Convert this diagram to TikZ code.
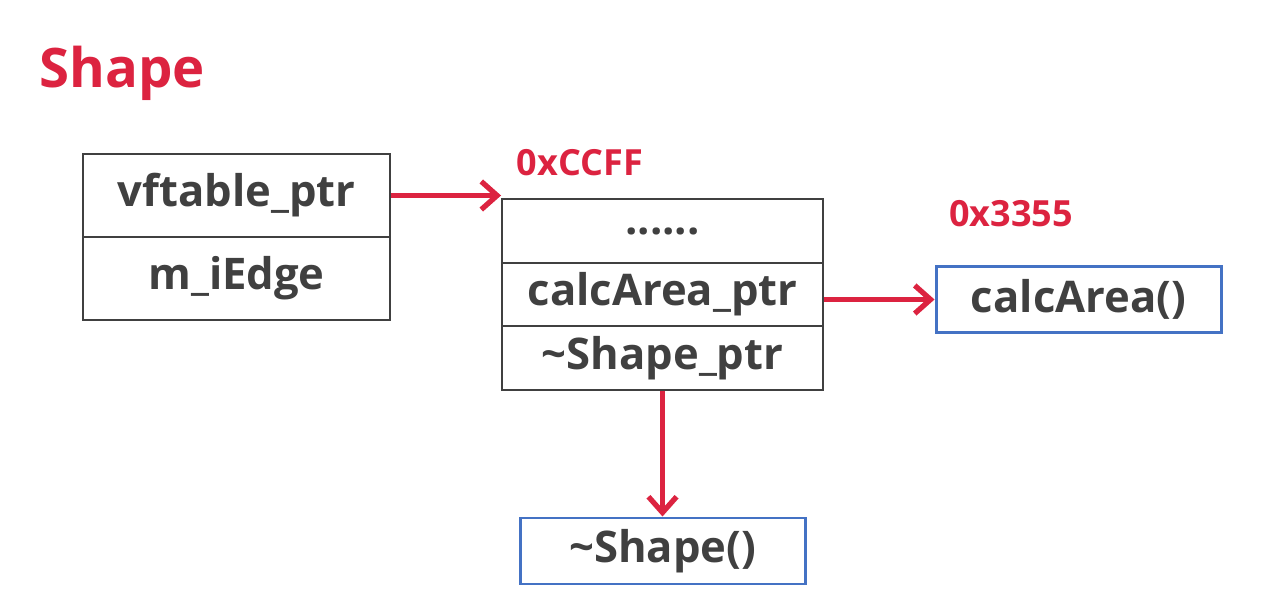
\documentclass[tikz,border=0pt]{standalone}
\usepackage{fontspec}
\setmainfont{Open Sans}
\usetikzlibrary{arrows.meta}
\definecolor{ptred}{HTML}{DC2340}
\definecolor{txtgray}{HTML}{404040}
\definecolor{boxblue}{HTML}{4472C4}
\tikzset{
  cell/.style={draw=txtgray, line width=1.1pt, inner sep=0pt, text=txtgray,
    font=\bfseries\fontsize{24.8}{28}\selectfont},
  fnbox/.style={draw=boxblue, line width=1.7pt, inner sep=0pt, text=txtgray,
    minimum width=5.7cm, minimum height=1.32cm,
    font=\bfseries\fontsize{24.8}{28}\selectfont},
  addr/.style={text=ptred, inner sep=0pt, font=\bfseries\fontsize{20.5}{24}\selectfont},
  ptrarrow/.style={draw=ptred, line width=3pt,
    -{Straight Barb[length=9pt,width=16pt,line width=3pt]}}
}
\begin{document}
\begin{tikzpicture}
\useasboundingbox (0,0) rectangle (25.32,-11.96);
\fill[white] (0,0) rectangle (25.32,-11.96);
% title
\node[anchor=base west, inner sep=0pt, text=ptred, font=\bfseries\fontsize{31}{36}\selectfont] (title) at (0.78,-1.76) {Shape};
% object box
\node[cell, minimum width=6.14cm, minimum height=1.66cm] (vf) at (4.73,-3.91) {vftable\_ptr};
\node[cell, minimum width=6.14cm, minimum height=1.66cm] (edge) at (4.73,-5.57) {m\_iEdge};
% vftable
\node[addr] (a1) at (11.6,-3.26) {0xCCFF};
\node[cell, minimum width=6.42cm, minimum height=1.28cm] (dots) at (13.25,-4.62) {......};
\node[cell, minimum width=6.42cm, minimum height=1.26cm] (calc) at (13.25,-5.89) {calcArea\_ptr};
\node[cell, minimum width=6.42cm, minimum height=1.28cm] (dtor) at (13.25,-7.16) {\textasciitilde Shape\_ptr};
% functions
\node[addr] (a2) at (20.22,-4.28) {0x3355};
\node[fnbox] (calcfn) at (21.57,-5.99) {calcArea()};
\node[fnbox] (dtorfn) at (13.25,-11.02) {\textasciitilde Shape()};
% arrows
\draw[ptrarrow] (vf.east) -- (vf.east -| dots.west);
\draw[ptrarrow] ([yshift=-0.1cm]calc.east) -- ([yshift=-0.1cm]calc.east -| calcfn.west);
\draw[ptrarrow] (dtor.south) -- (dtorfn.north);
\end{tikzpicture}
\end{document}
